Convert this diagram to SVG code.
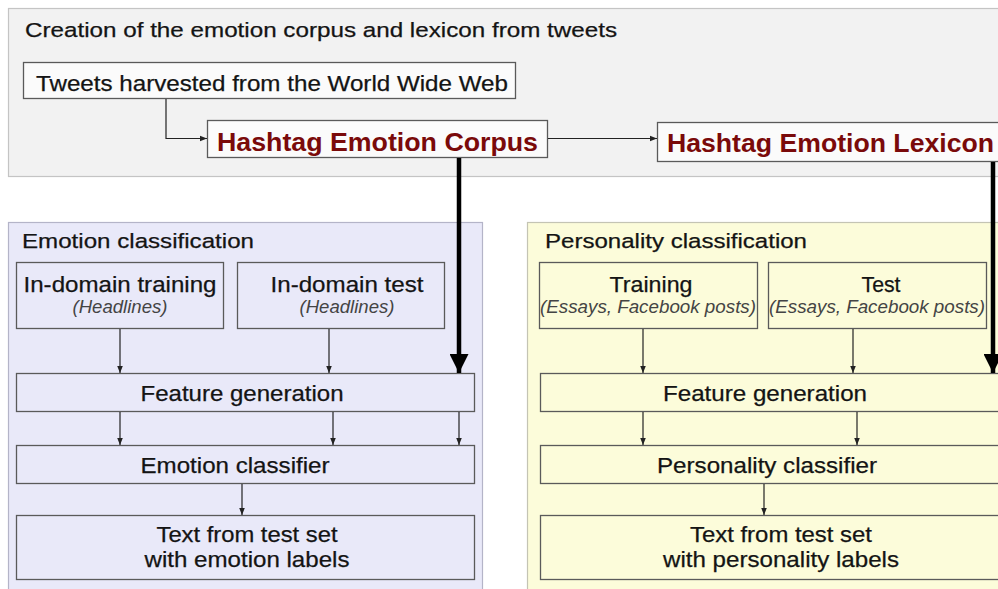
<svg xmlns="http://www.w3.org/2000/svg" width="998" height="589" viewBox="0 0 998 589">
<defs>
<marker id="ah" viewBox="0 0 10 10" refX="10" refY="5" markerWidth="7" markerHeight="7" markerUnits="userSpaceOnUse" orient="auto"><path d="M0,1 L10,5 L0,9 z" fill="#222"/></marker>
<marker id="bh" viewBox="0 0 10 10" refX="10" refY="5" markerWidth="19" markerHeight="19" markerUnits="userSpaceOnUse" orient="auto"><path d="M0,0 L10,5 L0,10 z" fill="#000"/></marker>
</defs>
<style>
text{font-family:"Liberation Sans",Arial,sans-serif;fill:#141414;stroke:#141414;stroke-width:0.25}
.t{font-size:22px}
.h{font-size:20.5px}
.b{font-size:25px;font-weight:bold;fill:#7a0a0a;stroke:none}
.i{font-size:17.5px;font-style:italic;fill:#444;stroke:none}
.m{text-anchor:middle}
.box{stroke:#5a5a5a;stroke-width:1.3}
.w{fill:#fbfbfb}
.lv{fill:#e9e9f9}
.yl{fill:#fcfcda}
.c{fill:none;stroke:#222;stroke-width:1.2}
.k{fill:none;stroke:#000;stroke-width:4.5}
</style>
<g id="panel-top">
<rect x="8.5" y="8.5" width="1000" height="168" fill="#f2f2f2" stroke="#c4c4c4" stroke-width="1.2"/>
<text class="h" x="25" y="37" textLength="592" lengthAdjust="spacingAndGlyphs">Creation of the emotion corpus and lexicon from tweets</text>
</g>
<g id="tweets">
<rect class="box w" x="23.5" y="62.5" width="492" height="36"/>
<text class="t" x="36" y="91" textLength="472" lengthAdjust="spacingAndGlyphs">Tweets harvested from the World Wide Web</text>
</g>
<g id="corpus">
<rect class="box w" x="207.5" y="120.5" width="340" height="37"/>
<text class="b" x="217" y="151" textLength="321" lengthAdjust="spacingAndGlyphs">Hashtag Emotion Corpus</text>
</g>
<g id="lexicon">
<rect class="box w" x="657.5" y="122.5" width="350" height="39"/>
<text class="b" x="667" y="152" textLength="327" lengthAdjust="spacingAndGlyphs">Hashtag Emotion Lexicon</text>
</g>
<g id="panel-emotion">
<rect x="8.5" y="222.5" width="474" height="380" fill="#e9e9f9" stroke="#b4b4c8" stroke-width="1.2"/>
<text class="h" x="22" y="248" textLength="232" lengthAdjust="spacingAndGlyphs">Emotion classification</text>
</g>
<g id="e-train">
<rect class="box lv" x="16.5" y="262.5" width="207" height="66"/>
<text class="t m" x="120" y="292" textLength="193" lengthAdjust="spacingAndGlyphs">In-domain training</text>
<text class="i m" x="120" y="313" textLength="95" lengthAdjust="spacingAndGlyphs">(Headlines)</text>
</g>
<g id="e-test">
<rect class="box lv" x="237.5" y="262.5" width="207" height="66"/>
<text class="t m" x="347" y="292" textLength="153" lengthAdjust="spacingAndGlyphs">In-domain test</text>
<text class="i m" x="347" y="313" textLength="95" lengthAdjust="spacingAndGlyphs">(Headlines)</text>
</g>
<g id="e-feat">
<rect class="box lv" x="16.5" y="373.5" width="458" height="38"/>
<text class="t m" x="242" y="401" textLength="203" lengthAdjust="spacingAndGlyphs">Feature generation</text>
</g>
<g id="e-clf">
<rect class="box lv" x="16.5" y="445.5" width="458" height="38"/>
<text class="t m" x="235" y="473" textLength="189" lengthAdjust="spacingAndGlyphs">Emotion classifier</text>
</g>
<g id="e-out">
<rect class="box lv" x="16.5" y="515.5" width="458" height="64"/>
<text class="t m" x="247" y="542" textLength="181" lengthAdjust="spacingAndGlyphs">Text from test set</text>
<text class="t m" x="247" y="567" textLength="205" lengthAdjust="spacingAndGlyphs">with emotion labels</text>
</g>
<g id="panel-personality">
<rect x="527.5" y="222.5" width="480" height="380" fill="#fcfcda" stroke="#c4c4b4" stroke-width="1.2"/>
<text class="h" x="545" y="248" textLength="262" lengthAdjust="spacingAndGlyphs">Personality classification</text>
</g>
<g id="p-train">
<rect class="box yl" x="539.5" y="262.5" width="218" height="66"/>
<text class="t m" x="651" y="292" textLength="83" lengthAdjust="spacingAndGlyphs">Training</text>
<text class="i m" x="648" y="313" textLength="216" lengthAdjust="spacingAndGlyphs">(Essays, Facebook posts)</text>
</g>
<g id="p-test">
<rect class="box yl" x="768.5" y="262.5" width="218" height="66"/>
<text class="t m" x="881" y="292" textLength="39" lengthAdjust="spacingAndGlyphs">Test</text>
<text class="i m" x="877" y="313" textLength="216" lengthAdjust="spacingAndGlyphs">(Essays, Facebook posts)</text>
</g>
<g id="p-feat">
<rect class="box yl" x="540.5" y="373.5" width="470" height="38"/>
<text class="t m" x="765" y="401" textLength="204" lengthAdjust="spacingAndGlyphs">Feature generation</text>
</g>
<g id="p-clf">
<rect class="box yl" x="540.5" y="445.5" width="470" height="38"/>
<text class="t m" x="767" y="473" textLength="220" lengthAdjust="spacingAndGlyphs">Personality classifier</text>
</g>
<g id="p-out">
<rect class="box yl" x="540.5" y="515.5" width="470" height="64"/>
<text class="t m" x="781" y="542" textLength="182" lengthAdjust="spacingAndGlyphs">Text from test set</text>
<text class="t m" x="781" y="567" textLength="236" lengthAdjust="spacingAndGlyphs">with personality labels</text>
</g>
<g id="connectors">
<path class="c" d="M166,99 V138.5 H207" marker-end="url(#ah)"/>
<path class="c" d="M548,138.5 H657" marker-end="url(#ah)"/>
<path class="k" d="M459,158 V373" marker-end="url(#bh)"/>
<path class="k" d="M993,162 V373" marker-end="url(#bh)"/>
<path class="c" d="M120,329 V373" marker-end="url(#ah)"/>
<path class="c" d="M329,329 V373" marker-end="url(#ah)"/>
<path class="c" d="M120,412 V445" marker-end="url(#ah)"/>
<path class="c" d="M333,412 V445" marker-end="url(#ah)"/>
<path class="c" d="M459,412 V445" marker-end="url(#ah)"/>
<path class="c" d="M242,484 V515" marker-end="url(#ah)"/>
<path class="c" d="M643,329 V373" marker-end="url(#ah)"/>
<path class="c" d="M853,329 V373" marker-end="url(#ah)"/>
<path class="c" d="M643,412 V445" marker-end="url(#ah)"/>
<path class="c" d="M857,412 V445" marker-end="url(#ah)"/>
<path class="c" d="M764,484 V515" marker-end="url(#ah)"/>
</g>
</svg>
